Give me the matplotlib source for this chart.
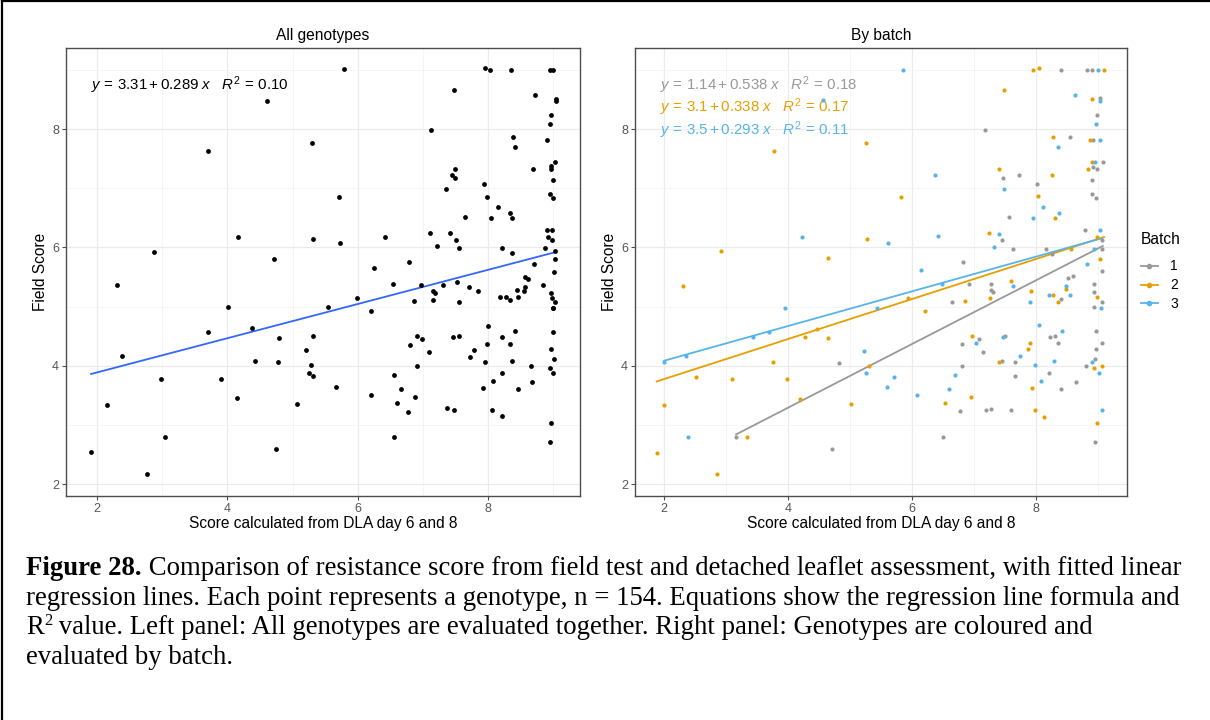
import matplotlib
matplotlib.use("Agg")
import matplotlib.pyplot as plt
from matplotlib.lines import Line2D

plt.rcParams['font.family'] = ['Liberation Sans', 'DejaVu Sans']
plt.rcParams['mathtext.fontset'] = 'custom'
plt.rcParams['mathtext.rm'] = 'Liberation Sans'
plt.rcParams['mathtext.it'] = 'Liberation Sans:italic'
plt.rcParams['mathtext.bf'] = 'Liberation Sans:bold'

# ---- data: left panel (all genotypes) ----
all_x = [1.91, 2.16, 2.31, 2.38, 2.77, 2.87, 2.99, 3.04, 3.71, 3.71, 3.91, 4.01, 4.15, 4.17,
         4.38, 4.42, 4.61, 4.71, 4.74, 4.79, 4.78, 5.07, 5.21, 5.26, 5.28, 5.30, 5.31, 5.32,
         5.32, 5.54, 5.67, 5.72, 5.73, 5.79, 5.99, 6.20, 6.21, 6.25, 6.42, 6.54, 6.56, 6.56,
         6.60, 6.67, 6.79, 6.77, 6.80, 6.87, 6.88, 6.91, 6.91,
         7.95, 8.03, 8.35, 8.95, 8.99, 7.47, 8.72, 9.04, 9.04, 8.97, 8.95, 7.12, 8.38, 8.41,
         8.90, 8.69, 9.03, 8.97, 8.96, 9.00, 7.50, 7.44, 7.49, 7.36, 7.94, 7.98, 8.95, 9.00,
         8.15, 8.33, 8.37, 7.65, 8.04, 7.11, 7.42, 7.51, 7.21, 7.56, 8.21, 8.90, 8.98, 8.92,
         8.98, 8.88, 9.03, 9.03, 8.36, 8.71,
         9.01, 6.97, 7.16, 7.19, 7.16, 7.31, 7.53, 7.56, 7.70, 7.84, 8.18, 8.27, 8.33, 8.45,
         8.46, 8.55, 8.57, 8.57, 8.61, 8.84, 8.96, 8.98, 9.02, 9.00, 9.00, 6.98, 7.10, 7.46,
         7.55, 8.00, 7.98, 8.22, 8.42, 8.34, 7.79, 7.72, 7.95, 8.36, 8.22, 8.07, 7.92, 8.46,
         8.66, 8.68, 9.00, 8.96, 9.01, 8.95, 8.99, 7.37, 7.48, 8.06, 8.22, 8.97, 8.95]
all_y = [2.54, 3.34, 5.36, 4.17, 2.17, 5.92, 3.78, 2.80, 7.63, 4.57, 3.78, 4.99, 3.45, 6.17,
         4.64, 4.08, 8.48, 5.81, 2.60, 4.47, 4.06, 3.35, 4.26, 3.88, 4.01, 7.76, 6.14, 4.50,
         3.83, 4.99, 3.65, 6.86, 6.07, 9.01, 5.15, 3.50, 4.93, 5.65, 6.18, 5.39, 3.85, 2.80,
         3.37, 3.60, 5.75, 3.22, 4.35, 5.09, 3.47, 4.50, 4.00,
         9.03, 9.00, 9.00, 9.00, 9.00, 8.66, 8.58, 8.51, 8.48, 8.23, 8.08, 7.99, 7.87, 7.69,
         7.82, 7.32, 7.45, 7.37, 7.33, 7.14, 7.32, 7.23, 7.18, 6.99, 7.07, 6.86, 6.90, 6.83,
         6.69, 6.59, 6.49, 6.51, 6.49, 6.25, 6.24, 6.12, 6.02, 5.99, 5.99, 6.30, 6.30, 6.18,
         6.12, 5.99, 5.94, 5.80, 5.90, 5.72,
         5.59, 5.37, 5.27, 5.23, 5.12, 5.37, 5.41, 5.07, 5.33, 5.26, 5.17, 5.17, 5.11, 5.28,
         5.17, 5.27, 5.33, 5.50, 5.47, 5.37, 5.23, 5.15, 5.07, 4.98, 4.97, 4.46, 4.23, 4.49,
         4.50, 4.68, 4.37, 4.48, 4.58, 4.37, 4.26, 4.15, 4.07, 4.08, 3.88, 3.75, 3.63, 3.60,
         4.00, 3.72, 4.57, 4.28, 4.12, 3.96, 3.88, 3.28, 3.25, 3.25, 3.15, 3.04, 2.72]

# ---- data: right panel (by batch) ----
b1_x = [3.16, 4.82, 4.71, 6.50, 6.65,
        8.41, 8.83, 8.91, 9.03, 8.98, 7.18, 8.55, 8.92, 9.08, 8.92, 8.99, 7.47, 7.73, 8.02,
        8.91, 8.90, 8.97,
        7.57, 7.46, 7.63, 8.80, 9.07, 9.07, 8.17, 8.26, 9.06, 6.82, 6.92, 8.51, 8.60, 7.27,
        7.28, 7.30, 8.40, 8.93, 8.93, 9.07, 8.93, 8.22, 8.30, 7.08, 7.50, 8.97, 9.06, 6.80,
        8.35, 8.97,
        7.15, 7.46, 7.66, 6.80, 8.21, 7.67, 8.41, 8.64, 8.81, 8.96, 6.77, 7.19, 7.27, 7.60, 8.96]
b1_y = [2.80, 4.05, 2.60, 2.80, 5.07,
        9.00, 9.00, 9.00, 8.52, 8.23, 7.99, 7.87, 7.82, 7.45, 7.36, 7.32, 7.18, 7.23, 7.08,
        7.14, 6.90, 6.84,
        6.51, 6.12, 5.98, 6.29, 6.12, 5.97, 5.98, 5.89, 5.61, 5.76, 5.39, 5.49, 5.51, 5.38,
        5.28, 5.24, 5.13, 5.39, 5.24, 5.08, 4.99, 4.49, 4.50, 4.46, 4.51, 4.58, 4.38, 4.36,
        4.38, 4.29,
        4.24, 4.08, 4.07, 4.00, 3.88, 3.83, 3.60, 3.72, 4.00, 4.12, 3.23, 3.25, 3.27, 3.25, 2.71]
b2_x = [1.88, 2.00, 2.31, 2.52, 2.85, 2.92, 3.10, 3.33, 3.77, 3.76, 3.99, 4.20, 4.27, 4.46,
        4.65, 4.65, 5.01, 5.31, 5.26, 5.27, 5.82, 5.93, 6.21, 6.53,
        7.95, 8.05, 9.10, 7.49, 8.91, 8.28, 8.88, 8.91, 8.84, 7.40, 8.26, 8.03,
        8.31, 7.24, 8.98, 8.56, 9.04, 6.86, 7.26, 7.59, 7.92, 8.27, 8.48, 8.36, 8.98, 6.97, 7.91,
        7.88, 7.41, 7.94, 8.93, 9.06, 6.96, 7.99, 8.13, 8.98]
b2_y = [2.53, 3.33, 5.34, 3.81, 2.17, 5.94, 3.78, 2.80, 7.63, 4.07, 3.78, 3.44, 4.49, 4.62,
        5.83, 4.47, 3.35, 3.99, 7.77, 6.15, 6.86, 5.15, 4.92, 3.37,
        9.00, 9.03, 9.00, 8.66, 8.51, 7.87, 7.82, 7.45, 7.32, 7.32, 7.23, 6.87,
        6.49, 6.24, 6.18, 5.98, 5.80, 5.10, 5.14, 5.44, 5.27, 5.19, 5.29, 5.08, 5.16, 4.51, 4.38,
        4.28, 4.07, 3.63, 3.96, 4.00, 3.48, 3.25, 3.14, 3.03]
b3_x = [2.00, 2.35, 2.39, 3.44, 3.70, 3.95, 4.22, 4.57, 5.23, 5.26, 5.71, 5.43, 5.59, 5.62,
        5.86, 6.08, 6.15, 6.37, 6.42, 6.48, 6.60, 6.70,
        9.00, 8.63, 9.03, 8.97, 9.03, 8.35, 8.95, 7.49,
        7.95, 8.12, 8.37, 7.40, 7.33, 9.04, 8.94, 8.83, 7.63, 7.91, 8.21, 8.48, 8.55, 9.05,
        8.05, 8.42, 7.47, 7.03,
        7.75, 7.98, 8.29, 8.08, 8.90, 9.02, 9.06]
b3_y = [4.07, 4.16, 2.80, 4.49, 4.57, 4.97, 6.18, 8.49, 4.25, 3.88, 3.81, 4.98, 3.65, 6.08,
        9.00, 3.50, 5.62, 7.23, 6.19, 5.38, 3.61, 3.84,
        9.00, 8.58, 8.47, 8.08, 7.82, 7.69, 7.45, 6.99,
        6.49, 6.69, 6.59, 6.23, 6.01, 6.29, 5.98, 5.72, 5.34, 5.08, 5.19, 5.34, 5.19, 4.98,
        4.69, 4.58, 4.49, 4.38,
        4.16, 4.01, 4.08, 3.75, 4.07, 3.88, 3.25]

# regression results printed on the panels
all_fit = (3.31, 0.289)
all_lab = ("3.31", "0.289", "0.10")
batches = ["1", "2", "3"]
batch_fit = [(1.14, 0.538), (3.1, 0.338), (3.5, 0.293)]
batch_lab = [("1.14", "0.538", "0.18"), ("3.1", "0.338", "0.17"), ("3.5", "0.293", "0.11")]
batch_col = ["#999999", "#E69F00", "#56B4E9"]

caption_bold = "Figure 28."
caption_lines = [
    " Comparison of resistance score from field test and detached leaflet assessment, with fitted linear",
    "regression lines. Each point represents a genotype, n = 154. Equations show the regression line formula and",
    " value. Left panel: All genotypes are evaluated together. Right panel: Genotypes are coloured and",
    "evaluated by batch.",
]

W, H = 1210, 720
fig = plt.figure(figsize=(W / 100, H / 100), dpi=100)
fig.patch.set_facecolor("white")

ax1 = fig.add_axes([66 / W, 1 - 496 / H, 514 / W, 448 / H])
ax2 = fig.add_axes([635 / W, 1 - 496 / H, 492 / W, 448 / H])


def style(ax, title, xlim):
    ax.set_xlim(*xlim)
    ax.set_ylim(1.80, 9.37)
    ax.set_xticks([2, 4, 6, 8])
    ax.set_yticks([2, 4, 6, 8])
    ax.set_xticks([3, 5, 7, 9], minor=True)
    ax.set_yticks([3, 5, 7, 9], minor=True)
    ax.grid(which="major", color="#EBEBEB", lw=0.9)
    ax.grid(which="minor", color="#F2F2F2", lw=0.5)
    ax.set_axisbelow(True)
    for s in ax.spines.values():
        s.set_color("#4D4D4D")
        s.set_linewidth(1.0)
    ax.tick_params(which="major", length=3, width=0.8, color="#4D4D4D",
                   labelcolor="#555555", labelsize=9, pad=2)
    ax.tick_params(which="minor", length=0)
    ax.set_title(title, fontsize=11.2, pad=6)
    ax.set_xlabel("Score calculated from DLA day 6 and 8", fontsize=11.2, labelpad=1)
    ax.set_ylabel("Field Score", fontsize=11.2, labelpad=3)


def eq_text(lab):
    a, b, r2 = lab
    return r"$y\,=\,%s+%s\ x\quad R^2\,=\,%s$" % (a, b, r2)


# left panel
style(ax1, "All genotypes", (1.525, 9.41))
ax1.scatter(all_x, all_y, s=12, color="black", lw=0, zorder=3)
x0, x1 = min(all_x), max(all_x)
ax1.plot([x0, x1], [all_fit[0] + all_fit[1] * x0, all_fit[0] + all_fit[1] * x1],
         color="#3366FF", lw=1.3, zorder=2)
ax1.text(0.048, 0.918, eq_text(all_lab), transform=ax1.transAxes, fontsize=10.8,
         color="black", va="center", ha="left")

# right panel
style(ax2, "By batch", (1.53, 9.47))
bx = [b1_x, b2_x, b3_x]
by = [b1_y, b2_y, b3_y]
handles = []
for i in range(3):
    ax2.scatter(bx[i], by[i], s=9, color=batch_col[i], lw=0, zorder=3)
    x0, x1 = min(bx[i]), max(bx[i])
    a, b = batch_fit[i]
    ax2.plot([x0, x1], [a + b * x0, a + b * x1], color=batch_col[i], lw=1.3, zorder=2)
    ax2.text(0.05, 0.918 - i * 0.051, eq_text(batch_lab[i]), transform=ax2.transAxes,
             fontsize=10.8, color=batch_col[i], va="center", ha="left")
    handles.append(Line2D([], [], color=batch_col[i], lw=1.3, marker="o", markersize=3,
                          label=batches[i]))
leg = ax2.legend(handles=handles, title="Batch", loc="upper left",
                 bbox_to_anchor=(1141 / W, 1 - 232 / H), bbox_transform=fig.transFigure,
                 frameon=False, handlelength=1.2, handletextpad=0.9, labelspacing=0.35,
                 fontsize=10, title_fontsize=11.2, borderaxespad=0, borderpad=0)
leg._legend_box.align = "left"
leg._legend_box.sep = 9

# caption
renderer = fig.canvas.get_renderer()
serif = ["Liberation Serif", "DejaVu Serif"]
cap_size = 19.3
left_px = 26


def put(x, ybase, txt, **kw):
    t = fig.text(x / W, 1 - ybase / H, txt, family=serif, va="baseline", ha="left",
                 fontsize=kw.pop("fontsize", cap_size), **kw)
    return t.get_window_extent(renderer).x1


x = put(left_px, 575, caption_bold, weight="bold")
put(x, 575, caption_lines[0])
put(left_px, 605, caption_lines[1])
x = put(left_px, 634, "R")
x = put(x, 625, "2", fontsize=cap_size * 0.62)
put(x, 634, caption_lines[2])
put(left_px, 664, caption_lines[3])

# page border
fig.add_artist(Line2D([0.002, 0.002], [0, 0.998], color="black", lw=1.6, transform=fig.transFigure))
fig.add_artist(Line2D([0.002, 1], [0.998, 0.998], color="black", lw=1.6, transform=fig.transFigure))

fig.savefig("out.png", dpi=100)
